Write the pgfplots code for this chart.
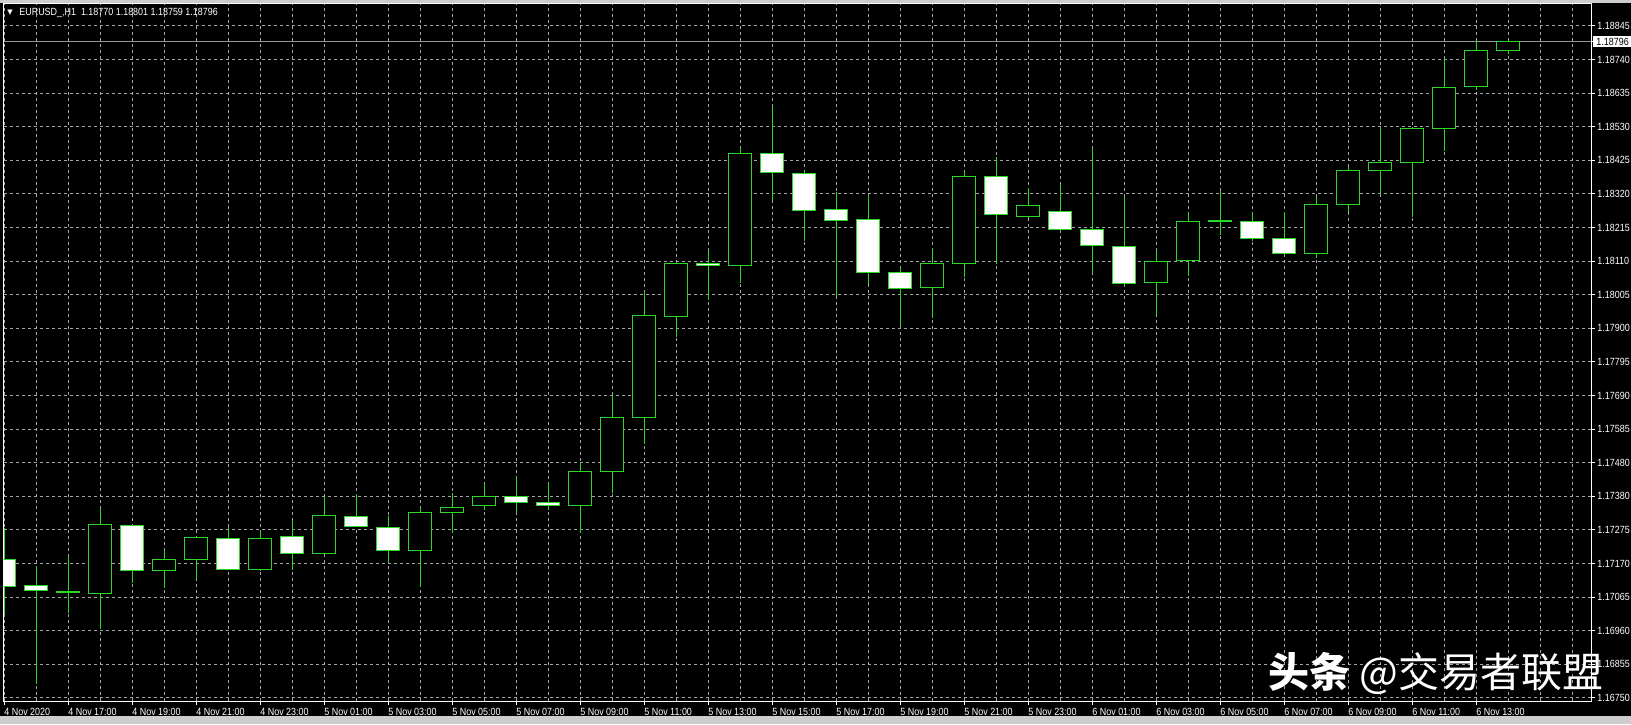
\documentclass[border=0pt]{standalone}
\usepackage{fontspec}
\usepackage{pgfplots}
\usepackage{pgfplotstable}
\pgfplotsset{compat=1.18}
\newfontfamily\mtfont{Liberation Sans}[FakeStretch=0.86]
\newfontfamily\cjk{Noto Sans CJK SC}
\newfontfamily\dejavu{DejaVu Sans}

\definecolor{candle}{RGB}{40,215,40}
\definecolor{mtgrid}{RGB}{165,165,165}
\definecolor{priceline}{RGB}{150,150,150}
\definecolor{winframe}{RGB}{205,205,205}

% EURUSD H1, 4 Nov 15:00 .. 6 Nov 14:00
\pgfplotstableread{
x o h l c
0 1.17183 1.17280 1.17012 1.17099
1 1.17102 1.17162 1.16794 1.17084
2 1.17080 1.17190 1.17015 1.17081
3 1.17077 1.17339 1.16965 1.17292
4 1.17289 1.17290 1.17109 1.17146
5 1.17149 1.17211 1.17093 1.17183
6 1.17183 1.17252 1.17121 1.17249
7 1.17246 1.17283 1.17150 1.17152
8 1.17152 1.17267 1.17146 1.17246
9 1.17252 1.17302 1.17149 1.17202
10 1.17202 1.17377 1.17200 1.17320
11 1.17317 1.17386 1.17283 1.17286
12 1.17283 1.17317 1.17174 1.17211
13 1.17211 1.17342 1.17096 1.17327
14 1.17327 1.17389 1.17264 1.17345
15 1.17349 1.17417 1.17336 1.17377
16 1.17377 1.17439 1.17327 1.17358
17 1.17358 1.17420 1.17336 1.17349
18 1.17349 1.17486 1.17264 1.17455
19 1.17455 1.17695 1.17389 1.17626
20 1.17626 1.18016 1.17542 1.17941
21 1.17938 1.18108 1.17875 1.18106
22 1.18106 1.18144 1.17991 1.18097
23 1.18097 1.18465 1.18044 1.18446
24 1.18446 1.18592 1.18303 1.18387
25 1.18384 1.18393 1.18175 1.18271
26 1.18274 1.18327 1.18003 1.18240
27 1.18243 1.18315 1.18041 1.18078
28 1.18075 1.18091 1.17910 1.18028
29 1.18031 1.18153 1.17935 1.18106
30 1.18106 1.18390 1.18063 1.18377
31 1.18377 1.18437 1.18103 1.18256
32 1.18250 1.18340 1.18247 1.18284
33 1.18268 1.18349 1.18210 1.18212
34 1.18212 1.18462 1.18075 1.18162
35 1.18159 1.18312 1.18035 1.18041
36 1.18044 1.18144 1.17944 1.18112
37 1.18115 1.18262 1.18066 1.18237
38 1.18237 1.18331 1.18193 1.18238
39 1.18237 1.18262 1.18175 1.18181
40 1.18181 1.18265 1.18135 1.18137
41 1.18137 1.18312 1.18122 1.18287
42 1.18287 1.18405 1.18265 1.18396
43 1.18396 1.18530 1.18321 1.18421
44 1.18421 1.18530 1.18250 1.18527
45 1.18524 1.18742 1.18455 1.18652
46 1.18655 1.18798 1.18645 1.18770
47 1.18770 1.18801 1.18759 1.18796
}\eurusd

\pgfplotsset{
  mtaxis/.style={
    scale only axis, width=793.75pt, height=348.5pt,
    at={(0,0)}, anchor=south west,
    xmin=-0.0156, xmax=49.594,
    ymin=1.167406, ymax=1.189136,
  },
}

\begin{document}
\begin{tikzpicture}
\path[use as bounding box, fill=black] (-1.75pt,-11.5pt) rectangle (813.75pt,350.5pt);
\fill[winframe] (-1.75pt,349.2pt) rectangle (813.75pt,350.5pt);
\fill[winframe] (-1.75pt,-11.5pt) rectangle (813.75pt,-7.7pt);

\begin{axis}[mtaxis,
  axis background/.style={fill=black},
  axis line style={white, line width=0.5pt},
  tick align=outside, major tick length=2pt, minor tick length=0pt,
  xtick pos=bottom, ytick pos=right, yticklabel pos=right,
  tick style={white, line width=0.5pt},
  xtick={0,2,...,46},
  minor xtick={1,3,...,47,48,49},
  xticklabels={4 Nov 2020, 4 Nov 17:00, 4 Nov 19:00, 4 Nov 21:00, 4 Nov 23:00,
    5 Nov 01:00, 5 Nov 03:00, 5 Nov 05:00, 5 Nov 07:00, 5 Nov 09:00, 5 Nov 11:00,
    5 Nov 13:00, 5 Nov 15:00, 5 Nov 17:00, 5 Nov 19:00, 5 Nov 21:00, 5 Nov 23:00,
    6 Nov 01:00, 6 Nov 03:00, 6 Nov 05:00, 6 Nov 07:00, 6 Nov 09:00, 6 Nov 11:00,
    6 Nov 13:00},
  ytick={1.16750,1.1685475,1.169595,1.1706425,1.17169,1.1727375,1.173785,
    1.1748325,1.17588,1.1769275,1.177975,1.1790225,1.18007,1.1811175,1.182165,
    1.1832125,1.18426,1.1853075,1.186355,1.1874025,1.18845},
  yticklabels={1.16750,1.16855,1.16960,1.17065,1.17170,1.17275,1.17380,1.17480,
    1.17585,1.17690,1.17795,1.17900,1.18005,1.18110,1.18215,1.18320,1.18425,
    1.18530,1.18635,1.18740,1.18845},
  grid=both,
  major grid style={mtgrid, dash pattern=on 1.5pt off 1.5pt, line width=0.5pt},
  minor grid style={mtgrid, dash pattern=on 1.5pt off 1.5pt, line width=0.5pt},
  ticklabel style={font=\mtfont\fontsize{5.2}{6}\selectfont, text=white},
  xticklabel style={anchor=west, inner sep=0pt, yshift=-3.25pt},
  yticklabel style={anchor=west, inner sep=0pt, xshift=1pt},
  extra y ticks={1.18796},
  extra y tick labels={1.18796},
  extra y tick style={
    major grid style={solid, priceline, line width=0.5pt},
    yticklabel style={fill=white, text=black, inner xsep=1.5pt, inner ysep=1pt, xshift=-2pt}},
]
% wicks, high to low
\addplot[draw=none, mark=none, forget plot,
  error bars/.cd, y dir=plus, y explicit, error mark=none,
  error bar style={candle, line width=0.5pt}]
  table[x=x, y=l, y error expr=\thisrow{h}-\thisrow{l}] {\eurusd};
\end{axis}

% bodies: invisible base up to min(open,close), then the body on top
\begin{axis}[mtaxis, hide axis, ybar stacked, bar width=11.75pt]
\addplot[draw=none, fill=none] table[x=x, y expr={min(\thisrow{o},\thisrow{c})}] {\eurusd};
\addplot[draw=candle, fill=black, line width=0.5pt] table[x=x, y expr={max(\thisrow{c}-\thisrow{o},0)}] {\eurusd};
\addplot[draw=candle, fill=white, line width=0.5pt] table[x=x, y expr={max(\thisrow{o}-\thisrow{c},0)}] {\eurusd};
\end{axis}

\node[text=white, inner sep=0pt, font=\dejavu\fontsize{3.5}{4}\selectfont] at (3.25pt,344.4pt) {▼};
\node[anchor=west, inner sep=0pt, text=white, font=\mtfont\fontsize{5.2}{6}\selectfont]
  at (7.75pt,344.15pt) {EURUSD\_,H1\ \ 1.18770 1.18801 1.18759 1.18796};
\node[anchor=base west, inner sep=0pt, text=white, font=\cjk\fontsize{20.5}{21}\selectfont]
  at (632.25pt,7pt) {{\bfseries 头条} @交易者联盟};
\end{tikzpicture}
\end{document}
